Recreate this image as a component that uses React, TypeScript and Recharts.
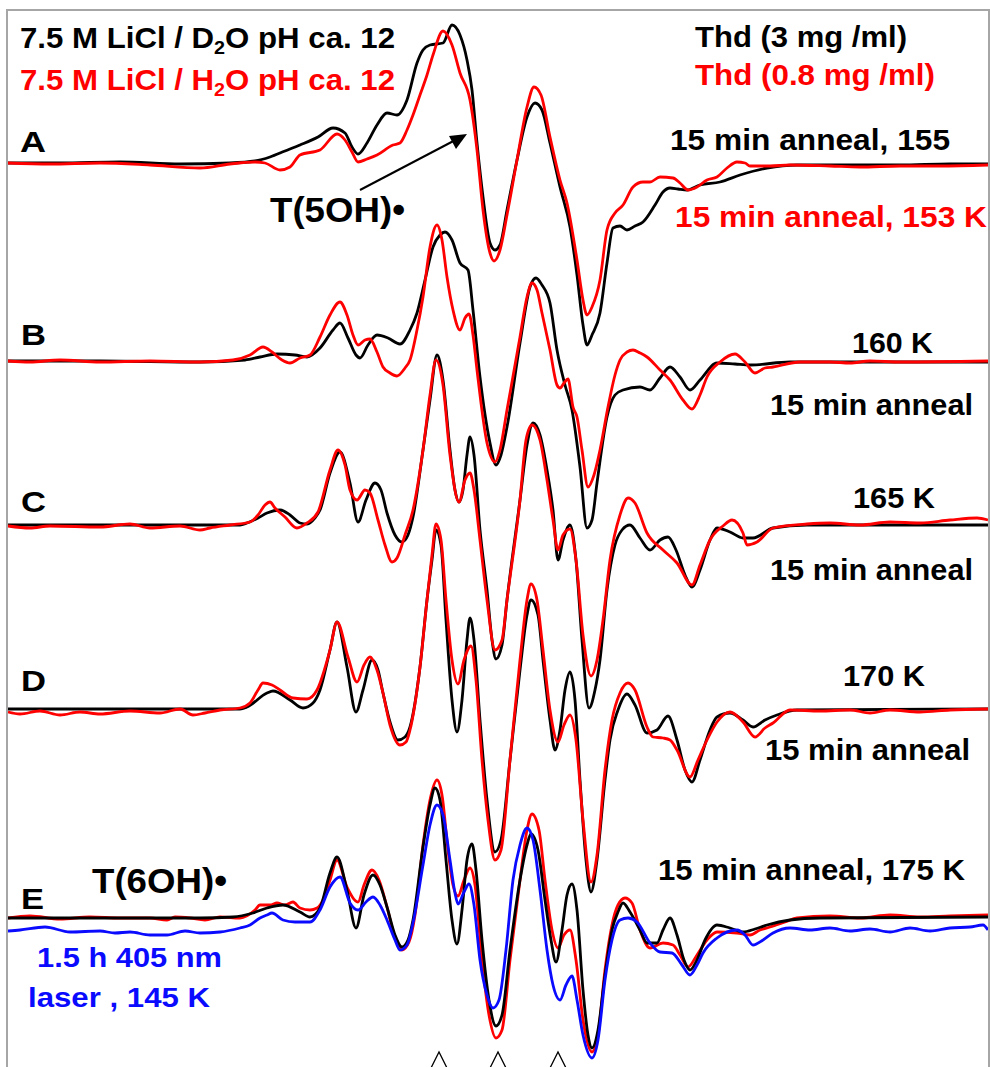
import { LineChart, Line, XAxis, YAxis } from 'recharts'

// ESR spectra A-E, field in arb. units, amplitude measured from each trace's baseline
const A_BLACK = [[8,0],[60,0],[120,1],[180,-1],[230,0],[255,2],[270,6],[285,12],[300,18],[318,26],[333,35],[345,30],[352,16],[358,9],[367,20],[377,38],[387,50],[397,48],[407,63],[417,100],[423,113],[430,118],[443,120],[452,138],[460,128],[467,103],[472,73],[477,20],[483,-34],[490,-80],[495,-87],[500,-82],[507,-47],[517,3],[527,46],[535,60],[542,53],[550,20],[560,-24],[570,-64],[577,-112],[583,-162],[587,-182],[592,-172],[600,-150],[607,-100],[613,-65],[620,-63],[627,-67],[635,-63],[643,-59],[655,-42],[663,-29],[670,-25],[678,-26],[687,-27],[700,-22],[720,-19],[740,-12],[767,-5],[797,-2],[850,-2],[900,-2],[950,-1],[988,-1]]
const A_RED = [[8,0],[50,-1],[100,0],[150,-2],[200,-5],[230,-1],[255,1],[265,0],[280,-7],[290,-4],[300,8],[320,13],[337,29],[345,23],[352,11],[358,1],[367,4],[377,8],[393,18],[400,20],[407,33],[413,48],[420,68],[427,88],[433,108],[443,132],[452,118],[460,90],[470,63],[477,13],[483,-47],[490,-90],[494,-98],[500,-87],[507,-52],[517,3],[527,56],[534,76],[541,68],[550,26],[560,-17],[567,-40],[577,-97],[583,-137],[587,-152],[592,-144],[600,-117],[607,-67],[615,-50],[623,-42],[633,-24],[643,-19],[650,-19],[660,-14],[673,-15],[680,-20],[688,-27],[697,-24],[707,-17],[717,-14],[727,-5],[737,1],[745,0],[750,-3],[770,-3],[790,-2],[830,-3],[860,-4],[900,-3],[940,-3],[988,-2]]

const B_BLACK = [[8,0],[100,0],[200,-1],[245,1],[260,4],[277,7],[295,6],[307,4],[320,13],[333,31],[340,38],[348,23],[356,6],[360,3],[368,16],[377,26],[388,23],[400,17],[410,31],[417,48],[425,81],[433,114],[440,126],[445,129],[452,121],[460,98],[468,91],[473,51],[480,-16],[490,-82],[496,-104],[501,-94],[507,-66],[520,18],[530,74],[536,83],[542,76],[550,58],[557,11],[565,-24],[572,-49],[580,-106],[587,-167],[592,-159],[597,-122],[607,-56],[615,-34],[623,-29],[640,-26],[650,-29],[660,-17],[670,-6],[680,-16],[690,-29],[700,-19],[717,-2],[735,-3],[750,-4],[790,-1],[988,-1]]
const B_RED = [[8,0],[30,-1],[60,1],[100,-1],[150,0],[200,-1],[233,1],[250,6],[263,14],[272,9],[282,1],[290,-2],[300,3],[310,6],[320,24],[330,46],[340,59],[347,46],[353,26],[358,16],[365,21],[370,22],[377,9],[383,-6],[390,-12],[397,-15],[405,-7],[410,1],[417,31],[423,64],[430,114],[437,136],[442,121],[447,84],[453,51],[460,31],[465,43],[469,47],[473,26],[477,-9],[487,-82],[495,-101],[500,-89],[507,-49],[520,24],[527,64],[532,78],[537,71],[542,48],[550,11],[557,-24],[560,-27],[564,-22],[568,-18],[573,-46],[577,-56],[582,-89],[588,-126],[594,-114],[600,-89],[608,-46],[615,-14],[620,1],[627,9],[633,11],[640,8],[647,4],[660,-9],[670,-19],[683,-39],[692,-48],[700,-34],[707,-16],[720,-1],[735,7],[745,-1],[755,-12],[765,-7],[773,-6],[800,-1],[830,-1],[850,-2],[870,0],[900,-1],[988,0]]

const C_BLACK = [[8,0],[150,0],[240,0],[247,2],[258,7],[267,12],[280,15],[290,10],[300,2],[307,1],[315,7],[320,15],[330,52],[340,73],[350,42],[358,3],[366,25],[375,42],[381,35],[387,12],[395,-10],[402,-17],[408,-10],[413,8],[423,75],[430,125],[437,170],[443,145],[450,75],[455,35],[459,23],[463,35],[467,70],[470,88],[474,70],[480,-5],[487,-65],[492,-115],[496,-134],[502,-120],[507,-75],[520,25],[527,80],[533,102],[540,90],[547,55],[553,15],[558,-35],[563,-15],[570,0],[576,-35],[582,-115],[589,-183],[595,-165],[600,-135],[607,-65],[615,-20],[622,-5],[630,0],[640,-13],[650,-25],[660,-15],[668,-12],[676,-25],[685,-50],[692,-62],[700,-45],[710,-15],[717,-3],[730,-7],[743,-13],[753,-13],[773,-3],[807,0],[988,0]]
const C_RED = [[8,-1],[30,-3],[50,-1],[100,-2],[130,1],[150,-3],[180,-1],[200,-5],[210,-3],[230,0],[250,3],[258,10],[265,20],[270,23],[275,17],[285,8],[297,-3],[307,2],[318,13],[330,55],[338,75],[345,60],[350,35],[357,25],[365,35],[370,32],[378,5],[385,-20],[392,-37],[397,-33],[405,-10],[413,15],[423,75],[430,130],[436,165],[443,140],[450,70],[459,23],[465,45],[470,52],[474,35],[480,-15],[487,-75],[495,-125],[502,-115],[507,-75],[520,25],[526,85],[532,100],[540,85],[547,45],[553,5],[558,-25],[563,-10],[570,-4],[576,-35],[583,-110],[591,-151],[597,-135],[603,-95],[610,-35],[620,10],[628,27],[635,22],[647,-8],[663,-25],[677,-38],[692,-60],[700,-40],[710,-15],[723,-1],[732,5],[743,-8],[747,-20],[757,-17],[773,-3],[807,1],[830,2],[860,0],[890,3],[920,2],[950,5],[977,7],[988,5]]

const D_BLACK = [[8,0],[150,0],[240,0],[247,2],[267,16],[273,18],[290,9],[303,1],[313,6],[320,19],[330,59],[337,87],[347,42],[356,-3],[363,19],[372,49],[378,39],[383,16],[390,-13],[398,-31],[405,-28],[410,-18],[420,42],[427,109],[432,149],[436,179],[441,164],[446,89],[452,9],[457,-23],[462,9],[467,69],[470,91],[474,69],[480,-11],[487,-91],[495,-143],[501,-131],[510,-51],[520,39],[527,94],[531,109],[538,94],[543,49],[550,-11],[555,-41],[560,-21],[565,19],[570,37],[575,9],[580,-71],[586,-151],[591,-183],[597,-151],[605,-71],[610,-31],[618,-1],[627,15],[635,4],[647,-24],[657,-21],[668,-7],[677,-31],[685,-61],[692,-73],[700,-51],[710,-21],[717,-8],[730,-4],[743,-11],[753,-18],[765,-11],[777,-6],[797,-1],[988,0]]
const D_RED = [[8,-3],[20,-5],[40,-2],[60,-6],[80,-3],[100,-5],[130,-2],[160,-4],[180,0],[193,-6],[205,-4],[220,-1],[240,1],[250,6],[258,19],[263,26],[272,24],[280,19],[293,11],[307,10],[317,19],[330,59],[337,87],[348,52],[357,27],[364,44],[370,52],[377,39],[383,16],[390,-16],[400,-36],[406,-33],[410,-21],[420,42],[427,109],[432,154],[436,185],[441,169],[446,109],[452,49],[458,25],[464,49],[471,63],[476,29],[482,-51],[488,-111],[495,-151],[501,-141],[510,-51],[520,49],[527,109],[531,125],[537,109],[543,59],[550,-1],[558,-33],[564,-16],[570,-6],[576,-31],[583,-111],[591,-173],[597,-146],[605,-61],[612,-11],[620,16],[628,26],[635,19],[647,-18],[653,-28],[663,-29],[670,-31],[677,-41],[690,-68],[698,-51],[707,-31],[717,-13],[730,-3],[743,-13],[755,-28],[765,-19],[773,-14],[790,-1],[820,-2],[850,-1],[870,-4],[890,-1],[920,-3],[950,-1],[988,0]]

const E_BLACK = [[8,0],[100,0],[200,0],[233,1],[253,5],[267,10],[283,13],[300,6],[310,1],[320,10],[330,45],[337,61],[347,28],[356,-10],[364,23],[373,43],[380,33],[387,11],[395,-17],[402,-29],[408,-22],[413,-2],[423,71],[430,113],[435,130],[440,118],[446,58],[452,-2],[457,-26],[462,8],[467,58],[472,74],[476,48],[482,-22],[489,-82],[496,-108],[502,-97],[510,-32],[520,38],[527,73],[531,84],[538,68],[545,18],[551,-22],[556,-44],[562,-12],[567,23],[572,34],[577,8],[583,-72],[588,-117],[592,-130],[598,-112],[605,-57],[612,-12],[618,6],[623,15],[630,6],[640,-12],[647,-25],[657,-25],[663,-12],[670,0],[677,-17],[684,-42],[690,-52],[697,-42],[705,-22],[717,-7],[730,-10],[743,-14],[755,-11],[767,-7],[790,-2],[820,0],[988,1]]
const E_RED = [[8,0],[30,2],[60,-1],[90,1],[120,0],[150,0],[167,-2],[175,1],[190,0],[205,-2],[220,1],[240,0],[255,8],[260,13],[270,13],[277,15],[285,13],[293,16],[300,10],[310,8],[317,10],[323,18],[330,38],[337,58],[347,31],[358,16],[364,33],[372,48],[379,38],[387,11],[395,-20],[402,-32],[409,-24],[415,3],[423,73],[430,118],[437,138],[442,123],[448,68],[453,33],[458,22],[464,38],[470,50],[475,33],[482,-42],[489,-97],[496,-120],[502,-112],[510,-42],[520,38],[527,88],[532,104],[539,88],[545,38],[552,-12],[558,-30],[564,-17],[570,-12],[576,-42],[583,-102],[592,-134],[598,-117],[605,-52],[612,-7],[618,13],[625,20],[632,15],[640,-12],[650,-30],[663,-25],[673,-27],[680,-37],[688,-49],[697,-37],[707,-22],[717,-14],[737,-15],[750,-17],[760,-12],[770,-9],[785,-4],[797,0],[830,2],[860,0],[890,3],[920,1],[950,2],[988,3]]
const E_BLUE = [[8,-13],[20,-12],[45,-9],[70,-14],[100,-13],[115,-15],[130,-14],[150,-17],[167,-17],[185,-13],[200,-15],[220,-14],[240,-10],[250,-7],[260,0],[267,3],[272,5],[283,-2],[295,-4],[310,-4],[320,8],[330,31],[340,41],[350,15],[358,8],[366,16],[373,21],[380,13],[387,-2],[395,-22],[400,-32],[407,-27],[413,-5],[423,53],[430,93],[437,113],[443,103],[450,58],[455,25],[458,14],[464,26],[469,34],[474,13],[480,-42],[487,-77],[493,-90],[499,-82],[506,-32],[513,38],[520,73],[527,90],[533,78],[540,28],[547,-32],[553,-67],[560,-82],[566,-67],[572,-58],[577,-82],[583,-117],[592,-140],[598,-122],[605,-62],[612,-22],[620,-2],[628,0],[637,-4],[650,-25],[660,-34],[672,-35],[682,-47],[690,-57],[697,-47],[703,-35],[717,-20],[737,-12],[745,-17],[753,-27],[763,-22],[773,-15],[790,-10],[810,-12],[830,-10],[850,-13],[870,-11],[890,-14],[910,-10],[930,-13],[950,-10],[970,-9],[983,-7],[988,-12]]

// stacking offsets of each spectrum's baseline (chart units)
const OFFSET = { A: 903, B: 705, C: 541, D: 357, E: 148 }
// field markers under spectrum E
const MARKERS = [439, 498, 558]

const BLACK = '#000000'
const RED = '#ff0000'
const BLUE = '#0a0aff'

const traces = [
  { id: 'A-black', pts: A_BLACK, off: OFFSET.A, color: BLACK },
  { id: 'A-red', pts: A_RED, off: OFFSET.A, color: RED },
  { id: 'B-black', pts: B_BLACK, off: OFFSET.B, color: BLACK },
  { id: 'B-red', pts: B_RED, off: OFFSET.B, color: RED },
  { id: 'C-black', pts: C_BLACK, off: OFFSET.C, color: BLACK },
  { id: 'C-red', pts: C_RED, off: OFFSET.C, color: RED },
  { id: 'D-black', pts: D_BLACK, off: OFFSET.D, color: BLACK },
  { id: 'D-red', pts: D_RED, off: OFFSET.D, color: RED },
  { id: 'E-red', pts: E_RED, off: OFFSET.E, color: RED },
  { id: 'E-black', pts: E_BLACK, off: OFFSET.E, color: BLACK },
  { id: 'E-blue', pts: E_BLUE, off: OFFSET.E, color: BLUE },
]

const toRows = (pts: number[][], off: number) => pts.map(([x, a]) => ({ x, y: a + off }))

const FONT = '"Liberation Sans", Arial, sans-serif'

// annotations: [text, x, baseline, width, color, size]
const NOTES: [string, number, number, number, string, number][] = [
  ['A', 20, 152, 26, BLACK, 30],
  ['B', 21, 345, 25, BLACK, 30],
  ['C', 21, 512, 25, BLACK, 30],
  ['D', 21, 691, 25, BLACK, 30],
  ['E', 21, 909, 23, BLACK, 30],
  ['Thd (3 mg /ml)', 695, 47, 212, BLACK, 30],
  ['Thd (0.8 mg /ml)', 695, 85, 240, RED, 30],
  ['15 min anneal, 155', 670, 150, 280, BLACK, 30],
  ['15 min anneal, 153 K', 675, 227, 312, RED, 30],
  ['T(5OH)•', 270, 222, 135, BLACK, 35],
  ['160 K', 852, 353, 81, BLACK, 30],
  ['15 min anneal', 770, 415, 203, BLACK, 30],
  ['165 K', 853, 508, 82, BLACK, 30],
  ['15 min anneal', 770, 580, 203, BLACK, 30],
  ['170 K', 843, 686, 82, BLACK, 30],
  ['15 min anneal', 765, 760, 205, BLACK, 30],
  ['15 min anneal, 175 K', 658, 880, 307, BLACK, 30],
  ['T(6OH)•', 92, 893, 135, BLACK, 35],
  ['1.5 h 405 nm', 37, 967, 185, BLUE, 27],
  ['laser , 145 K', 28, 1007, 182, BLUE, 27],
]

function Caret(props: any) {
  const { x, y } = props
  return <path d={`M${x - 8},${y + 2} L${x},${y - 14} L${x + 8},${y + 2}`} fill="none" stroke="#000" strokeWidth={1.3} />
}

function Solvent({ y, color, iso }: { y: number; color: string; iso: string }) {
  return (
    <text x={20} y={y} fill={color} fontFamily={FONT} fontWeight="bold" fontSize={30} textLength={375} lengthAdjust="spacingAndGlyphs">
      7.5 M LiCl / {iso}
      <tspan fontSize={19} dy={6}>2</tspan>
      <tspan dy={-6}>O pH ca. 12</tspan>
    </text>
  )
}

export default function App() {
  return (
    <div style={{ position: 'absolute', left: 0, top: 0, width: 990, height: 1067, background: '#fff' }}>
      <LineChart width={990} height={1067} margin={{ top: 10, right: 2, bottom: 0, left: 8 }}>
        <XAxis
          dataKey="x"
          type="number"
          domain={[8, 988]}
          ticks={MARKERS}
          interval={0}
          tick={(p: any) => <Caret {...p} />}
          axisLine={false}
          tickLine={false}
          tickSize={0}
          tickMargin={0}
          height={1}
        />
        <YAxis type="number" domain={[0, 1056]} hide />
        {traces.map((t) => (
          <Line
            key={t.id}
            data={toRows(t.pts, t.off)}
            dataKey="y"
            type="monotone"
            stroke={t.color}
            strokeWidth={2.8}
            dot={false}
            isAnimationActive={false}
          />
        ))}
      </LineChart>
      <svg width={990} height={1067} style={{ position: 'absolute', left: 0, top: 0, pointerEvents: 'none' }}>
        <path d="M7,1067 L7,10 L989,10 L989,1067" fill="none" stroke="#a6a6a6" strokeWidth={2} />
        <Solvent y={48} color={BLACK} iso="D" />
        <Solvent y={90} color={RED} iso="H" />
        {NOTES.map(([s, x, y, w, c, f], i) => (
          <text key={i} x={x} y={y} fill={c} fontFamily={FONT} fontWeight="bold" fontSize={f} textLength={w} lengthAdjust="spacingAndGlyphs">
            {s}
          </text>
        ))}
        <line x1={360} y1={190} x2={463} y2={136} stroke="#000" strokeWidth={2} />
        <path d="M467,134 L449,136 L456,149 z" fill="#000" />
      </svg>
    </div>
  )
}
